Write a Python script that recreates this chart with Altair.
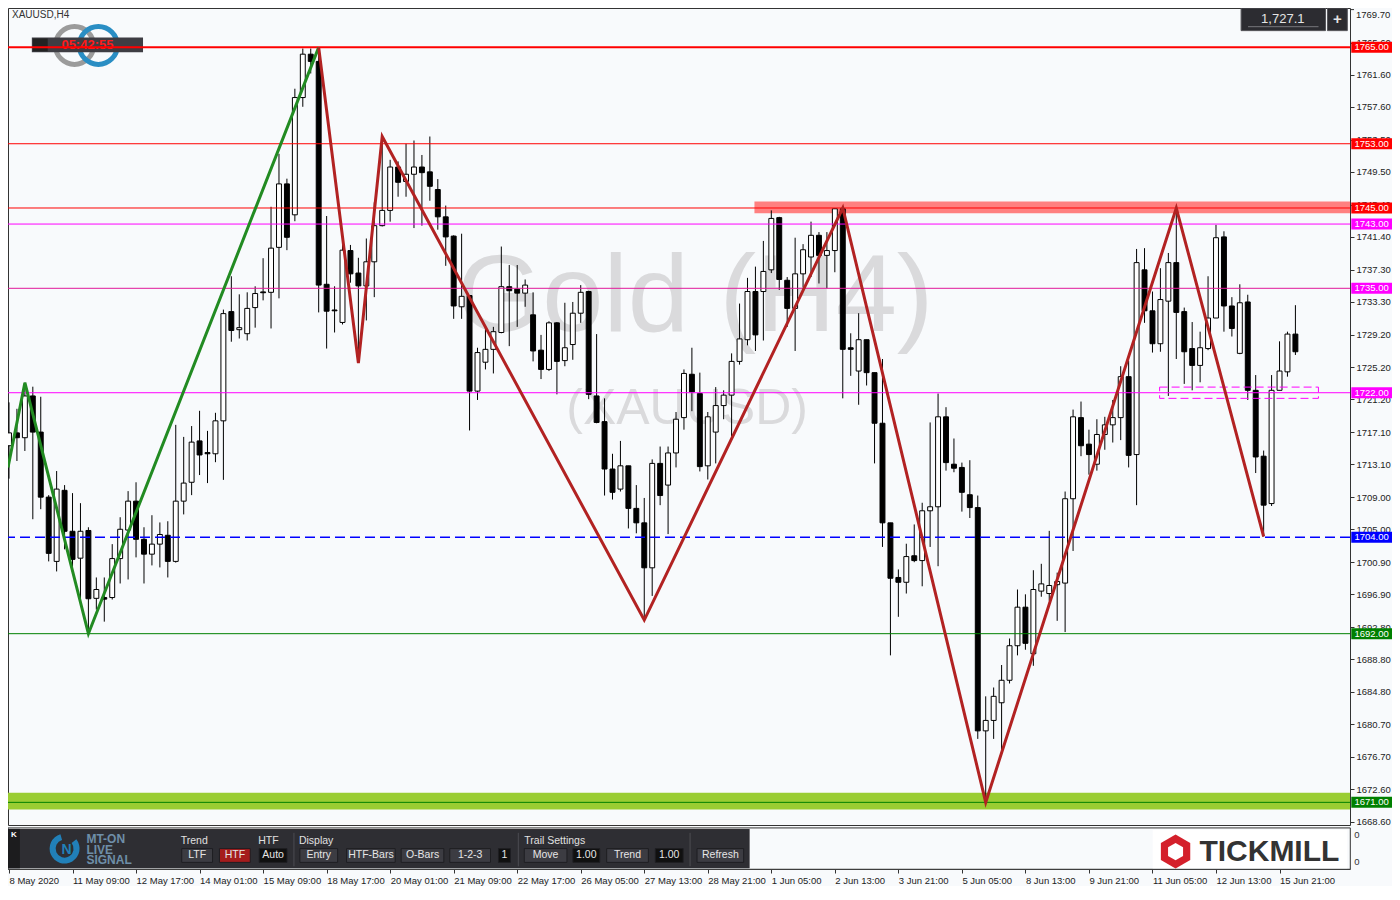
import altair as alt
import pandas as pd

# ---------------- data ----------------
opens = [1715.4, 1717.0, 1716.4, 1721.6, 1717.1, 1709.0, 1701.0, 1709.85, 1704.75, 1701.4,
         1704.85, 1696.4, 1696.5, 1696.5, 1701.35, 1704.9, 1708.5, 1703.75, 1701.9, 1703.15,
         1704.25, 1701.0, 1708.5, 1710.85, 1716.0, 1714.55, 1714.4, 1718.5, 1732.1, 1729.85,
         1729.35, 1732.6, 1734.55, 1734.5, 1740.1, 1748.0, 1744.15, 1758.75, 1764.15, 1763.25,
         1735.5, 1732.3, 1730.75, 1739.7, 1736.9, 1735.3, 1738.3, 1742.8, 1744.7, 1750.1,
         1748.3, 1749.2, 1750.1, 1749.5, 1747.3, 1743.9, 1741.5, 1732.7, 1734.1, 1722.2,
         1725.8, 1727.4, 1729.5, 1735.2, 1734.9, 1734.4, 1731.7, 1727.3, 1724.9, 1730.7,
         1726.0, 1728.0, 1731.9, 1734.6, 1721.6, 1718.4, 1712.5, 1710.0, 1712.9, 1707.6,
         1705.8, 1700.2, 1713.2, 1710.5, 1714.5, 1718.9, 1724.3, 1721.9, 1712.9, 1717.1,
         1720.4, 1721.7, 1725.9, 1728.6, 1734.6, 1734.6, 1737.3, 1743.8, 1736.0, 1732.5,
         1736.8, 1738.9, 1741.6, 1739.1, 1739.7, 1744.9, 1727.6, 1724.7, 1728.6, 1724.5,
         1718.2, 1705.8, 1699.0, 1698.4, 1701.7, 1701.1, 1707.3, 1707.8, 1719.0, 1713.1,
         1712.7, 1709.3, 1707.7, 1679.9, 1681.2, 1683.4, 1686.2, 1690.5, 1695.3, 1689.5,
         1697.3, 1697.0, 1698.1, 1698.3, 1708.8, 1718.9, 1715.6, 1713.1, 1716.8, 1718.0,
         1718.9, 1724.0, 1714.3, 1737.3, 1732.2, 1728.1, 1733.4, 1738.2, 1732.1, 1727.5,
         1725.4, 1727.5, 1731.3, 1741.4, 1732.8, 1726.9, 1733.3, 1722.3, 1714.1, 1708.2,
         1722.3, 1724.6, 1729.3]
highs = [1720.8, 1720.0, 1723.25, 1722.75, 1721.5, 1709.25, 1712.25, 1710.5, 1709.5, 1708.25,
         1705.25, 1699.0, 1699.0, 1703.15, 1706.5, 1709.75, 1710.85, 1705.25, 1706.75, 1705.85,
         1706.0, 1718.0, 1716.5, 1717.85, 1719.75, 1717.25, 1719.5, 1732.35, 1736.5, 1734.25,
         1734.5, 1735.25, 1738.75, 1745.15, 1751.75, 1748.65, 1759.85, 1764.85, 1764.85, 1765.0,
         1744.0, 1735.25, 1740.5, 1740.4, 1738.8, 1741.2, 1745.7, 1753.9, 1751.0, 1750.8,
         1753.0, 1753.4, 1751.6, 1753.9, 1748.6, 1745.3, 1741.6, 1741.8, 1734.1, 1727.6,
         1730.4, 1730.2, 1740.2, 1737.9, 1737.9, 1736.1, 1734.5, 1729.2, 1730.9, 1730.8,
         1733.2, 1733.3, 1735.4, 1734.7, 1729.3, 1721.3, 1714.4, 1716.0, 1712.9, 1710.5,
         1708.9, 1713.7, 1715.3, 1715.3, 1719.6, 1724.9, 1727.6, 1724.5, 1719.6, 1722.7,
         1722.3, 1726.9, 1733.1, 1736.3, 1737.7, 1740.9, 1744.7, 1743.9, 1736.4, 1741.3,
         1740.5, 1743.3, 1742.0, 1742.0, 1744.9, 1745.2, 1729.4, 1731.9, 1728.6, 1724.5,
         1726.2, 1705.8, 1700.0, 1703.2, 1705.6, 1708.3, 1718.3, 1721.9, 1720.2, 1716.3,
         1713.3, 1713.6, 1709.2, 1684.2, 1685.3, 1688.1, 1691.4, 1697.5, 1696.9, 1699.9,
         1700.7, 1704.8, 1699.6, 1709.7, 1719.9, 1720.9, 1717.4, 1718.7, 1719.0, 1721.1,
         1725.3, 1726.0, 1739.9, 1740.0, 1734.6, 1737.5, 1739.4, 1744.8, 1732.6, 1730.8,
         1729.6, 1736.5, 1742.9, 1742.1, 1733.9, 1735.5, 1734.2, 1724.2, 1714.8, 1724.2,
         1728.4, 1729.6, 1732.9]
lows = [1711.3, 1713.5, 1714.75, 1706.25, 1707.5, 1701.0, 1699.75, 1702.5, 1700.25, 1696.25,
        1692.0, 1695.0, 1693.5, 1696.25, 1698.25, 1698.75, 1701.5, 1698.25, 1700.5, 1700.25,
        1699.0, 1700.85, 1706.85, 1709.25, 1711.75, 1710.75, 1713.35, 1711.15, 1728.35, 1728.75,
        1728.5, 1730.1, 1733.5, 1730.0, 1733.75, 1739.75, 1743.35, 1757.6, 1761.75, 1732.0,
        1727.5, 1729.5, 1730.5, 1735.7, 1725.7, 1731.0, 1733.9, 1742.7, 1743.3, 1746.4,
        1746.4, 1742.5, 1742.8, 1745.9, 1742.3, 1737.8, 1731.2, 1731.2, 1717.3, 1721.1,
        1724.9, 1724.4, 1729.4, 1727.8, 1730.2, 1732.7, 1725.9, 1723.7, 1724.7, 1721.8,
        1725.3, 1726.1, 1730.7, 1721.2, 1718.2, 1709.2, 1708.7, 1709.7, 1705.1, 1704.5,
        1693.7, 1696.7, 1708.0, 1704.4, 1712.7, 1717.4, 1719.7, 1712.2, 1711.2, 1713.2,
        1718.7, 1716.6, 1725.5, 1727.9, 1727.2, 1728.5, 1736.9, 1734.8, 1730.2, 1727.2,
        1735.1, 1736.4, 1735.6, 1735.0, 1737.0, 1721.3, 1724.1, 1720.5, 1722.9, 1713.2,
        1702.8, 1689.3, 1694.1, 1697.0, 1700.9, 1697.9, 1702.8, 1700.4, 1712.3, 1712.1,
        1707.2, 1706.4, 1678.9, 1670.9, 1678.9, 1677.2, 1685.8, 1689.3, 1690.0, 1688.0,
        1696.6, 1696.1, 1693.6, 1692.2, 1702.3, 1714.1, 1711.8, 1712.3, 1714.9, 1715.8,
        1716.1, 1712.7, 1708.0, 1730.7, 1727.0, 1727.1, 1721.6, 1726.2, 1723.1, 1722.3,
        1723.3, 1727.3, 1731.3, 1729.6, 1729.0, 1726.8, 1721.1, 1712.0, 1704.1, 1707.9,
        1722.3, 1724.0, 1726.7]
closes = [1717.0, 1716.4, 1721.6, 1717.1, 1709.0, 1702.0, 1710.0, 1704.75, 1701.25, 1704.75,
          1696.35, 1697.5, 1696.3, 1701.35, 1705.0, 1708.5, 1703.75, 1701.9, 1703.15, 1704.35,
          1701.0, 1708.5, 1710.75, 1715.85, 1714.25, 1714.4, 1718.5, 1731.85, 1729.75, 1730.1,
          1732.5, 1734.35, 1734.45, 1740.0, 1748.0, 1741.35, 1758.75, 1764.15, 1763.25, 1735.4,
          1732.15, 1732.2, 1739.75, 1736.8, 1735.3, 1738.3, 1742.8, 1744.7, 1750.1, 1748.2,
          1749.2, 1750.1, 1749.4, 1747.7, 1743.9, 1741.4, 1732.8, 1734.0, 1722.2, 1727.0,
          1727.4, 1729.6, 1735.2, 1734.7, 1734.4, 1735.4, 1727.2, 1724.9, 1730.7, 1725.9,
          1727.6, 1731.9, 1734.5, 1721.8, 1718.3, 1712.5, 1709.6, 1712.9, 1707.6, 1705.8,
          1700.2, 1713.2, 1709.2, 1714.5, 1718.7, 1724.4, 1722.1, 1712.8, 1719.0, 1720.4,
          1721.7, 1725.9, 1728.7, 1734.6, 1729.2, 1737.1, 1743.7, 1736.1, 1732.5, 1736.8,
          1739.8, 1741.6, 1739.1, 1739.7, 1744.9, 1727.4, 1727.4, 1728.6, 1724.5, 1718.2,
          1705.8, 1698.9, 1698.4, 1701.6, 1701.1, 1707.3, 1707.8, 1719.0, 1713.3, 1712.6,
          1709.6, 1707.7, 1679.9, 1681.2, 1684.2, 1686.2, 1690.5, 1695.3, 1690.8, 1697.5,
          1698.2, 1698.0, 1698.5, 1708.8, 1719.0, 1715.4, 1714.3, 1716.8, 1718.0, 1718.9,
          1724.0, 1714.2, 1738.2, 1732.2, 1728.1, 1733.6, 1738.2, 1732.0, 1727.1, 1725.4,
          1727.6, 1731.3, 1741.3, 1732.8, 1730.0, 1733.2, 1722.3, 1714.0, 1708.0, 1722.3,
          1724.7, 1729.3, 1727.1]

date_labels = ["8 May 2020", "11 May 09:00", "12 May 17:00", "14 May 01:00", "15 May 09:00",
               "18 May 17:00", "20 May 01:00", "21 May 09:00", "22 May 17:00", "26 May 05:00",
               "27 May 13:00", "28 May 21:00", "1 Jun 05:00", "2 Jun 13:00", "3 Jun 21:00",
               "5 Jun 05:00", "8 Jun 13:00", "9 Jun 21:00", "11 Jun 05:00", "12 Jun 13:00",
               "15 Jun 21:00"]
date_label_bars = list(range(0, 161, 8))

top_price_tick = 1769.7
price_ticks = [1765.6, 1761.6, 1757.6, 1753.5, 1749.5, 1745.4, 1741.4, 1737.3, 1733.3,
               1729.2, 1725.2, 1721.2, 1717.1, 1713.1, 1709.0, 1705.0, 1700.9, 1696.9, 1692.8,
               1688.8, 1684.8, 1680.7, 1676.7, 1672.6, 1668.6]

zig_green_bar = [-0.125, 2, 10, 39]
zig_green_price = [1712.7, 1723.25, 1692.0, 1765.0]
zig_red_bar = [39, 44, 47, 80, 105, 123, 147, 158]
zig_red_price = [1765.0, 1725.7, 1753.9, 1693.7, 1745.0, 1671.0, 1745.0, 1704.1]

level_prices = [1765.0, 1753.0, 1745.0, 1743.0, 1735.0, 1722.0, 1704.0, 1692.0, 1671.0]

resist_zone_price = [1744.35, 1745.8]
resist_zone_bar = [93.875, 168.875]
support_zone_price = [1670.1, 1672.2]
box_bar = [144.9, 164.9]
box_price = [1721.3, 1722.7]

last_price_text = "1,727.1"
timer_text = "05:42:55"

# ---------------- layout & style ----------------
FONT = "Liberation Sans"
NARROW = "'Liberation Sans Narrow', 'Liberation Sans'"
SX = 1384 / 1394
SY = 878 / 892
W = 1342
H = 817


def px(x):
    return round((x - 3) * SX, 2)


def py(y):
    return round((y - 3) * SY, 2)


LEVEL_STYLE = {
    1765.0: ("#ff0000", 2, None),
    1753.0: ("#ff0000", 1, None),
    1745.0: ("#ff0000", 1, None),
    1743.0: ("#ff00ff", 1, None),
    1735.0: ("#e0189a", 1, None),
    1722.0: ("#ff00ff", 1, None),
    1704.0: ("#0000ff", 1.4, [10, 5]),
    1692.0: ("#008000", 1, None),
    1671.0: ("#008000", 1, None),
}
LABEL_FILL = {
    1765.0: "#ff0000", 1753.0: "#ff0000", 1745.0: "#ff0000",
    1743.0: "#ff00ff", 1735.0: "#ff00ff", 1722.0: "#ff00ff",
    1704.0: "#0000ff", 1692.0: "#008000", 1671.0: "#008000",
}

XS = alt.Scale(domain=[-0.125, 168.875], nice=False, zero=False)
YS = alt.Scale(domain=[1668.18, 1769.90], nice=False, zero=False)
label_expr = "[" + ",".join("'%s'" % s for s in date_labels) + "][round(datum.value / 8)]"
XAX = alt.Axis(values=date_label_bars, labelExpr=label_expr, offset=44, orient="bottom",
               labelAlign="left", labelBaseline="top", labelPadding=2, labelFont=FONT,
               labelFontSize=9.5, labelColor="#222222", tickColor="#333333", tickSize=4,
               domainColor="#333333", grid=False, title=None, labelFlush=False,
               labelOverlap=False)
YAX = alt.Axis(orient="right", values=price_ticks, format=".2f", labelFont=FONT,
               labelFontSize=9.5, labelColor="#222222", tickColor="#333333", tickSize=4,
               domain=False, grid=False, title=None, labelPadding=2, labelOverlap=False,
               labelFlush=False)


def X(f):
    return alt.X(f, type="quantitative", scale=XS, axis=XAX)


def Y(f):
    return alt.Y(f, type="quantitative", scale=YS, axis=YAX)


def deco():
    return alt.Chart(pd.DataFrame({"k": [0]}))


def vtext(txt, x, y, size=10, color="#333333", align="left", weight="normal", font=FONT):
    return deco().mark_text(align=align, baseline="middle", fontSize=size, color=color,
                            fontWeight=weight, font=font).encode(
        x=alt.value(x), y=alt.value(y), text=alt.value(txt))


def vrect(x0, x1, y0, y1, fill, stroke=None, sw=1):
    kw = dict(fill=fill)
    if stroke:
        kw.update(stroke=stroke, strokeWidth=sw)
    return deco().mark_rect(**kw).encode(
        x=alt.value(x0), x2=alt.value(x1), y=alt.value(y0), y2=alt.value(y1))


layers = []

# watermark
layers.append(vtext("Gold (H4)", px(695), py(298), size=110, color="#dadadc", align="center"))
layers.append(vtext("(XAUUSD)", px(687), py(410), size=50, color="#dadadc", align="center"))

# zones
zone_g = pd.DataFrame({"lo": [support_zone_price[0]], "hi": [support_zone_price[1]]})
layers.append(alt.Chart(zone_g).mark_rect(color="#9acd32").encode(
    x=alt.value(0), x2=alt.value(W), y=Y("lo"), y2="hi"))
zone_r = pd.DataFrame({"b0": [resist_zone_bar[0]], "b1": [resist_zone_bar[1]],
                       "lo": [resist_zone_price[0]], "hi": [resist_zone_price[1]]})
layers.append(alt.Chart(zone_r).mark_rect(color="#ff8080").encode(
    x=X("b0"), x2="b1", y=Y("lo"), y2="hi"))

# top-left logo & timer
layers.append(deco().mark_point(shape="circle", filled=False, size=1444, strokeWidth=5,
                                color="#9b9b9b", opacity=1).encode(
    x=alt.value(px(70)), y=alt.value(py(41))))
layers.append(deco().mark_point(shape="circle", filled=False, size=1444, strokeWidth=5,
                                color="#2a8ec4", opacity=1).encode(
    x=alt.value(px(94)), y=alt.value(py(41))))
layers.append(vrect(px(27), px(139), py(33), py(48), "#3e3d43"))
layers.append(vrect(px(28), px(43), py(34), py(47), "#222222"))
layers.append(vtext(timer_text, px(83), py(41), size=13, color="#ff1a1a", align="center",
                    weight="bold"))
layers.append(vtext("XAUUSD,H4", px(7), py(10), size=10, color="#333333"))

# candles
bars = pd.DataFrame({"bar": list(range(len(opens))), "open": opens, "high": highs,
                     "low": lows, "close": closes})
bars["x1"] = bars["bar"] - 0.31
bars["x2"] = bars["bar"] + 0.31
up = bars[bars["close"] >= bars["open"]]
dn = bars[bars["close"] < bars["open"]]
layers.append(alt.Chart(bars).mark_rule(color="#000000", strokeWidth=1).encode(
    x=X("bar"), y=Y("low"), y2="high"))
layers.append(alt.Chart(up).mark_rect(fill="#ffffff", stroke="#000000", strokeWidth=1).encode(
    x=X("x1"), x2="x2", y=Y("open"), y2="close"))
layers.append(alt.Chart(dn).mark_rect(fill="#000000", stroke="#000000", strokeWidth=1).encode(
    x=X("x1"), x2="x2", y=Y("open"), y2="close"))

# level lines
for p in level_prices:
    col, w, dash = LEVEL_STYLE[p]
    kw = dict(color=col, strokeWidth=w)
    if dash:
        kw["strokeDash"] = dash
    layers.append(alt.Chart(pd.DataFrame({"price": [p]})).mark_rule(**kw).encode(y=Y("price")))

# dashed magenta box
bx = pd.DataFrame({"b0": [box_bar[0]], "b1": [box_bar[1]], "lo": [box_price[0]],
                   "hi": [box_price[1]]})
layers.append(alt.Chart(bx).mark_rect(fillOpacity=0, stroke="#ff00ff", strokeWidth=1,
                                      strokeDash=[8, 4]).encode(
    x=X("b0"), x2="b1", y=Y("lo"), y2="hi"))

# zigzags
zg = pd.DataFrame({"bar": zig_green_bar, "price": zig_green_price})
layers.append(alt.Chart(zg).mark_line(color="#228b22", strokeWidth=3).encode(
    x=X("bar"), y=Y("price")))
zr = pd.DataFrame({"bar": zig_red_bar, "price": zig_red_price})
layers.append(alt.Chart(zr).mark_line(color="#b22222", strokeWidth=3).encode(
    x=X("bar"), y=Y("price")))

# top tick of the price scale (kept inside the page)
tp = pd.DataFrame({"price": [top_price_tick], "label": ["%.2f" % top_price_tick]})
layers.append(alt.Chart(tp).mark_text(font=FONT, fontSize=9.5, color="#222222", align="left",
                                      baseline="top", dy=0).encode(
    x=alt.value(W + 6), y=Y("price"), text="label"))
layers.append(alt.Chart(tp).mark_rule(color="#333333", strokeWidth=1).encode(
    x=alt.value(W), x2=alt.value(W + 4), y=Y("price")))

# right price labels
for p in level_prices:
    d = pd.DataFrame({"price": [p], "label": ["%.2f" % p]})
    layers.append(alt.Chart(d).mark_rect(color=LABEL_FILL[p], yOffset=-5.5, y2Offset=5.5).encode(
        x=alt.value(px(1356)), x2=alt.value(px(1397)), y=Y("price"), y2="price"))
    layers.append(alt.Chart(d).mark_text(color="#ffffff", font=FONT, fontSize=9.5,
                                         align="center", baseline="middle").encode(
        x=alt.value(px(1376.5)), y=Y("price"), text="label"))

# top-right last price box
layers.append(vrect(px(1245), px(1330), 0, py(26), "#2c2c31", "#55555a"))
layers.append(deco().mark_rule(color="#77777c", strokeWidth=1).encode(
    x=alt.value(px(1252)), x2=alt.value(px(1323)), y=alt.value(py(22))))
layers.append(vtext(last_price_text, px(1287), py(14), size=13, color="#e4e4e4",
                    align="center"))
layers.append(vrect(px(1332), px(1352), 0, py(26), "#2c2c31", "#55555a"))
layers.append(vtext("+", px(1342), py(14), size=15, color="#e4e4e4", align="center",
                    weight="bold"))

# sub-window
layers.append(vrect(0, px(1355), py(836), py(878), "#f8fafc", "#333333"))
layers.append(vrect(px(3), px(750), py(837), py(877), "#2e2e33"))
layers.append(vrect(px(3), px(15), py(837), py(877), "#1c1c1e"))
layers.append(vtext("K", px(9), py(843), size=8, color="#ffffff", align="center", weight="bold"))
layers.append(deco().mark_arc(radius=15, radius2=9, theta=0.9, theta2=6.0,
                              color="#2180b8").encode(
    x=alt.value(px(60)), y=alt.value(py(857))))
layers.append(vtext("N", px(62), py(858), size=14, color="#2180b8", align="center",
                    weight="bold"))
layers.append(vtext("MT-ON", px(82), py(847), size=12, color="#6e8ea8", weight="bold"))
layers.append(vtext("LIVE", px(82), py(858), size=12, color="#6e8ea8", weight="bold"))
layers.append(vtext("SIGNAL", px(82), py(869), size=12, color="#6e8ea8", weight="bold"))

for t, x in [("Trend", 177), ("HTF", 255), ("Display", 296), ("Trail Settings", 523)]:
    layers.append(vtext(t, px(x), py(849), size=10.5, color="#e0e0e0", font=NARROW))

for x in [291, 517, 690]:
    layers.append(deco().mark_rule(color="#4c4c52", strokeWidth=1).encode(
        x=alt.value(px(x)), y=alt.value(py(841)), y2=alt.value(py(875))))

buttons = [("LTF", 178, 209, "#3c3c42"), ("HTF", 216, 247, "#a51c1c"),
           ("Auto", 256, 284, "#101010"), ("Entry", 297, 335, "#3c3c42"),
           ("HTF-Bars", 344, 393, "#3c3c42"), ("O-Bars", 399, 442, "#3c3c42"),
           ("1-2-3", 448, 489, "#3c3c42"), ("1", 497, 509, "#101010"),
           ("Move", 523, 566, "#3c3c42"), ("1.00", 572, 599, "#101010"),
           ("Trend", 606, 648, "#3c3c42"), ("1.00", 655, 683, "#101010"),
           ("Refresh", 697, 744, "#3c3c42")]
for t, x0, x1, f in buttons:
    layers.append(vrect(px(x0), px(x1), py(857), py(871), f, "#1e1e22"))
    layers.append(vtext(t, px((x0 + x1) / 2), py(864), size=10.5, color="#e6e6e6",
                        align="center", font=NARROW))

# Tickmill logo
layers.append(vrect(px(1156), px(1352), py(838), py(877), "#ffffff"))
layers.append(deco().mark_point(
    shape="M0,-1L0.866,-0.5L0.866,0.5L0,1L-0.866,0.5L-0.866,-0.5Z", filled=True,
    size=1150, color="#d4202b", opacity=1).encode(x=alt.value(px(1179)), y=alt.value(py(860))))
layers.append(deco().mark_point(
    shape="M0,-1L0.866,-0.5L0.866,0.5L0,1L-0.866,0.5L-0.866,-0.5Z", filled=True,
    size=300, color="#ffffff", opacity=1).encode(x=alt.value(px(1179)), y=alt.value(py(860))))
layers.append(vtext("TICKMILL", px(1203), py(860), size=30, color="#333333", weight="bold"))

# sub-window right scale
for yy in [843, 871]:
    layers.append(vtext("0", px(1359), py(yy), size=9.5, color="#333333"))

chart = alt.layer(*layers).properties(
    width=W, height=H,
    autosize=alt.AutoSizeParams(type="none"),
    padding={"left": 0, "top": 0, "right": 42, "bottom": 61},
).configure(background="#f8fafc").configure_view(stroke="#333333", strokeWidth=1)

chart.save("out.html", embed_options={"renderer": "svg", "actions": False})
